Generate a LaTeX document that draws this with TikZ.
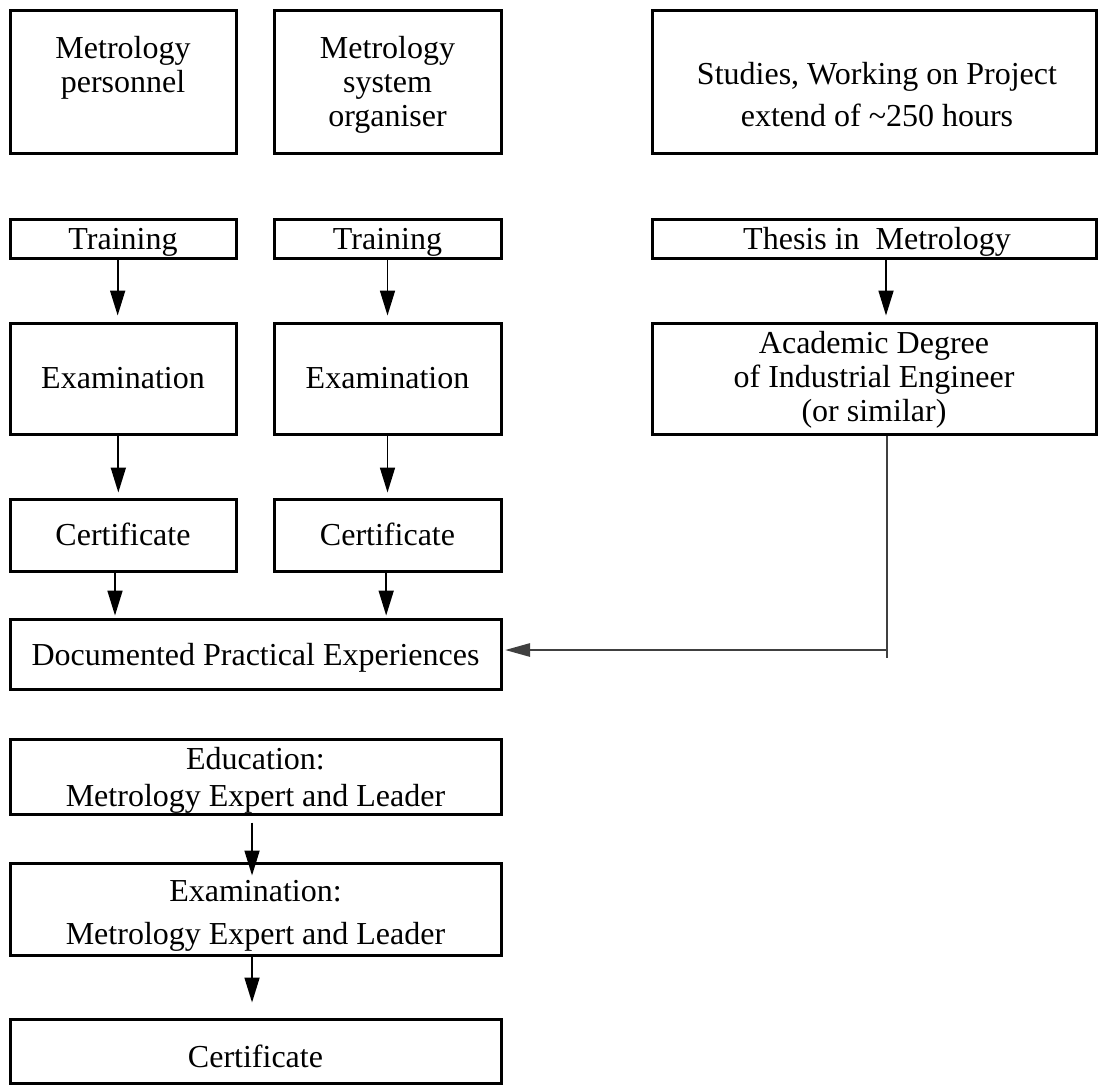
\documentclass[tikz,border=0pt]{standalone}
\usepackage{fontspec}
\setmainfont{Liberation Serif}
\usetikzlibrary{arrows.meta,fit}
\begin{document}
\begin{tikzpicture}[x=0.75pt,y=-0.75pt,
  box/.style={draw, line width=2.25pt, inner sep=0pt},
  txt/.style={inner sep=0pt, align=center, font=\fontsize{24}{25.5}\selectfont},
  arr/.style={line width=1.3pt, -{Triangle[length=18.75pt,width=11.25pt]}},
  conn/.style={line width=1.5pt, draw=black!75},
]
\useasboundingbox (0,0) rectangle (1098,1086);
% boxes
\node[box, fit={(10,10) (236,153)}] (p1) {};
\node[box, fit={(274,10) (501,153)}] (p2) {};
\node[box, fit={(652,10) (1096,153)}] (p3) {};
\node[box, fit={(10,219) (236,258)}] (t1) {};
\node[box, fit={(274,219) (501,258)}] (t2) {};
\node[box, fit={(652,219) (1096,258)}] (t3) {};
\node[box, fit={(10,323) (236,434)}] (e1) {};
\node[box, fit={(274,323) (501,434)}] (e2) {};
\node[box, fit={(652,323) (1096,434)}] (ac) {};
\node[box, fit={(10,499) (236,571)}] (c1) {};
\node[box, fit={(274,499) (501,571)}] (c2) {};
\node[box, fit={(10,619) (501,689)}] (doc) {};
\node[box, fit={(10,739) (501,814)}] (edu) {};
\node[box, fit={(10,863) (501,955)}] (ex) {};
\node[box, fit={(10,1019) (501,1083)}] (cf) {};
% texts
\node[txt, anchor=north] (p1t) at (123,36) {Metrology\\personnel};
\node[txt, anchor=north] (p2t) at (387.5,36) {Metrology\\system\\organiser};
\node[txt, anchor=north, font=\fontsize{24}{31.5}\selectfont] (p3t) at (877,62) {Studies, Working on Project\\extend of \textasciitilde250 hours};
\node[txt, anchor=base] (t1t) at (123,249) {Training};
\node[txt, anchor=base] (t2t) at (387.5,249) {Training};
\node[txt, anchor=base] (t3t) at (877,249) {Thesis in~ Metrology};
\node[txt, anchor=base] (e1t) at (123,388) {Examination};
\node[txt, anchor=base] (e2t) at (387.5,388) {Examination};
\node[txt, anchor=north] (act) at (874,331) {Academic Degree\\of Industrial Engineer\\(or similar)};
\node[txt, anchor=base] (c1t) at (123,545) {Certificate};
\node[txt, anchor=base] (c2t) at (387.5,545) {Certificate};
\node[txt, anchor=base] (doct) at (255.5,665) {Documented Practical Experiences};
\node[txt, anchor=north, font=\fontsize{24}{27.75}\selectfont] (edut) at (255.5,747) {Education:\\Metrology Expert and Leader};
\node[txt, anchor=north, font=\fontsize{24}{32.25}\selectfont] (ext) at (255.5,880) {Examination:\\Metrology Expert and Leader};
\node[txt, anchor=base] (cft) at (255.5,1067) {Certificate};
% arrows
\draw[arr] ([xshift=-4pt]t1.south) -- ([xshift=-4pt,yshift=4.5pt]e1.north);
\draw[arr] (t2.south) -- ([yshift=4.5pt]e2.north);
\draw[arr] ([xshift=9pt]t3.south) -- ([xshift=9pt,yshift=4.5pt]ac.north);
\draw[arr] ([xshift=-3.5pt]e1.south) -- ([xshift=-3.5pt,yshift=3.75pt]c1.north);
\draw[arr] (e2.south) -- ([yshift=3.75pt]e2.south |- c2.north);
\draw[arr] ([xshift=-6pt]c1.south) -- ([xshift=-6pt,yshift=1.5pt]c1.south |- doc.north);
\draw[arr] ([xshift=-1pt]c2.south) -- ([xshift=-1pt,yshift=1.5pt]c2.south |- doc.north);
\draw[arr] ([xshift=-2.6pt,yshift=-5.25pt]edu.south) -- ([xshift=-2.6pt,yshift=-10.5pt]ex.north);
\draw[arr] ([xshift=-2.6pt]ex.south) -- ([xshift=-2.6pt,yshift=11.25pt]cf.north);
% connector from academic degree
\coordinate (bend) at (887,650);
\coordinate (tail) at (887,658);
\draw[conn] (ac.south -| tail) -- (tail);
\draw[conn, -{Triangle[length=18.75pt,width=10pt]}] (bend) -- ([xshift=2pt]doc.east |- bend);
\end{tikzpicture}
\end{document}
